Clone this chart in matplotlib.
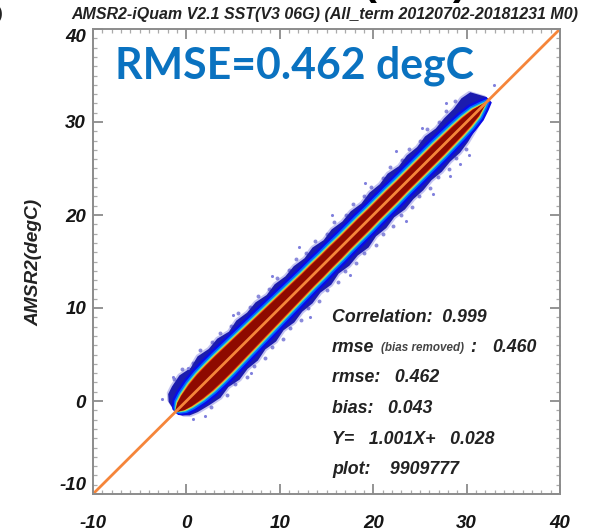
import matplotlib
matplotlib.use("Agg")
import matplotlib.pyplot as plt
from matplotlib.ticker import MultipleLocator
import numpy as np

plt.rcParams['font.family'] = ['Liberation Sans', 'DejaVu Sans']
plt.rcParams['axes.unicode_minus'] = False

# values, s = position along the 1:1 line (degC)
s = [-1.2, -1.0, -0.6, 0, 1, 2, 3, 4, 5, 6, 7, 8, 9, 10, 11, 12, 13, 14, 15, 16, 17,
     18, 19, 20, 21, 22, 23, 24, 25, 26, 27, 28, 29, 30, 31, 31.8, 32.4]
# y-x distance of the outer edge, upper and lower side
outer_up = [0, 1.8, 2.7, 3.1, 3.5, 3.1, 3.6, 3.2, 3.4, 2.9, 3.3, 3.0, 3.2, 2.8, 3.1, 2.8, 3.0, 2.7,
            3.0, 2.6, 2.9, 2.6, 2.8, 2.5, 2.8, 2.6, 2.9, 2.5, 2.8, 2.6, 2.9, 2.6, 2.8, 2.8, 3.1, 2.8, 0.6]
outer_lo = [0, 1.1, 1.9, 2.4, 2.9, 3.3, 3.0, 3.4, 3.1, 3.3, 2.9, 3.2, 2.8, 3.1, 2.8, 3.0, 2.7, 3.0,
            2.6, 2.9, 2.7, 3.0, 2.6, 2.8, 2.5, 2.8, 2.6, 2.7, 2.5, 2.7, 2.5, 2.6, 2.3, 1.8, 1.2, 0.5, 0.1]
cyan_half = [0, 0.5, 1.1, 1.5, 1.9, 2.1, 2.15, 2.15, 2.1, 2.05, 2.0, 1.95, 1.9, 1.85, 1.8, 1.75, 1.7,
             1.7, 1.65, 1.65, 1.6, 1.6, 1.6, 1.55, 1.55, 1.55, 1.5, 1.5, 1.5, 1.5, 1.5, 1.45, 1.4, 1.3, 1.05, 0.5, 0]
core_half = [0, 0.3, 0.75, 1.1, 1.45, 1.65, 1.7, 1.7, 1.65, 1.6, 1.55, 1.5, 1.45, 1.4, 1.35, 1.3, 1.25,
             1.25, 1.2, 1.2, 1.15, 1.15, 1.15, 1.1, 1.1, 1.1, 1.05, 1.05, 1.05, 1.05, 1.05, 1.0, 0.95, 0.85, 0.65, 0.25, 0]
# speckle along the band edge: position along the line and y-x distance
edge_s = [0.5, 1.5, 2.4, 3.5, 4.5, 5.5, 6.4, 7.5, 8.5, 9.5, 10.4, 11.5, 12.5, 13.5, 14.4, 15.5,
          16.5, 17.5, 18.5, 19.5, 20.5, 21.4, 22.5, 23.5, 24.5, 25.5, 26.5, 27.5, 28.5, 29.5, 30.5,
          1.0, 2.5, 3.5, 4.5, 5.5, 6.5, 7.5, 8.5, 9.5, 10.5, 11.5, 12.5, 13.5, 14.5, 15.5,
          16.5, 17.5, 18.5, 19.5, 20.5, 21.5, 22.5, 23.5, 24.5, 25.5, 26.5, 27.5, 28.5]
edge_d = [3.7, 3.9, 3.4, 4.0, 3.6, 3.7, 3.3, 3.9, 3.3, 3.6, 3.2, 3.5, 3.1, 3.6, 3.1, 3.4,
          3.0, 3.4, 2.9, 3.3, 3.0, 3.3, 2.9, 3.4, 2.9, 3.3, 3.0, 3.4, 2.9, 3.4, 3.5,
          -3.2, -3.7, -3.4, -3.9, -3.4, -3.8, -3.3, -3.7, -3.2, -3.6, -3.1, -3.5, -3.1, -3.5, -3.0,
          -3.4, -3.1, -3.5, -3.0, -3.3, -2.9, -3.3, -2.9, -3.2, -2.9, -3.2, -2.8, -2.9]
# stray points outside the band
stray_x = [-2.6, -1.4, 0.2, 2.0, 0.7, 5.0, 9.2, 6.9, 15.6, 13.2, 19.1, 22.4, 17.5, 25.2, 23.5,
           27.8, 28.2, 29.3, 32.9, 30.3, 26.4, 12.1]
stray_y = [0.2, 2.6, 3.6, -1.6, -1.9, 9.2, 13.4, 3.0, 20.0, 9.0, 23.4, 26.9, 13.6, 29.4, 19.4,
           32.0, 24.2, 25.5, 34.0, 26.4, 22.3, 16.6]
line_x = [-10, 40]
line_y = [-10, 40]
axis_ticks = [-10, 0, 10, 20, 30, 40]
stat_y = [9.0, 5.7, 2.5, -0.85, -4.1, -7.4]
stat_text = ["Correlation:  0.999", "rmse", "rmse:   0.462", "bias:   0.043",
             "Y=   1.001X+   0.028", "plot:    9909777"]

s = np.array(s)
outer_up = np.array(outer_up)
outer_lo = np.array(outer_lo)
cyan_half = np.array(cyan_half)
core_half = np.array(core_half)
edge_s = np.array(edge_s)
edge_d = np.array(edge_d)

W, H = 591, 531
fig = plt.figure(figsize=(W / 100, H / 100), dpi=100)
ax = fig.add_axes([93 / W, 1 - 494 / H, (560 - 93) / W, (494 - 29) / H])
ax.set_xlim(-10, 40)
ax.set_ylim(-10, 40)


def band(up, lo, color, **kw):
    xs = np.r_[s - up / 2, (s + lo / 2)[::-1]]
    ys = np.r_[s + up / 2, (s - lo / 2)[::-1]]
    ax.fill(xs, ys, color=color, lw=0, **kw)


band(outer_up + 0.3, outer_lo + 0.3, '#c4c4f0')
ax.scatter(edge_s - edge_d / 2, edge_s + edge_d / 2, s=8, color='#5a5acc', lw=0, alpha=0.7)
band(outer_up, outer_lo, '#1c1cae')
band(cyan_half + 0.6, cyan_half + 0.6, '#0a0ae8')
band(cyan_half + 0.25, cyan_half + 0.25, '#0068ff')
band(cyan_half, cyan_half, '#20c8e0')
band(cyan_half - 0.12, cyan_half - 0.12, '#90e070')
band(cyan_half - 0.22, cyan_half - 0.22, '#f0c030')
band(cyan_half - 0.32, cyan_half - 0.32, '#e03010')
band(core_half, core_half, '#8e0a00')
ax.scatter(stray_x, stray_y, s=5, color='#8080dd', lw=0)
ax.plot(line_x, line_y, color='#f5853a', lw=2.0, solid_capstyle='butt')

for side in ax.spines.values():
    side.set_color('#8c8c8c')
    side.set_linewidth(1.4)
ax.set_xticks(axis_ticks)
ax.set_yticks(axis_ticks)
ax.xaxis.set_minor_locator(MultipleLocator(1))
ax.yaxis.set_minor_locator(MultipleLocator(1))
ax.tick_params(which='major', direction='in', top=True, right=True, length=7, width=1.1,
               color='#777777', labelsize=13.5, labelcolor='#151515')
ax.tick_params(which='minor', direction='in', top=True, right=True, length=3, width=0.9, color='#aaaaaa')
ax.tick_params(axis='x', which='major', pad=15)
ax.tick_params(axis='y', which='major', pad=5)
for lab in ax.get_xticklabels() + ax.get_yticklabels():
    lab.set_fontweight('bold')
    lab.set_fontstyle('italic')
ylabs = ax.get_yticklabels()
ylabs[0].set_verticalalignment('bottom')
ylabs[-1].set_verticalalignment('top')

ax.set_ylabel("AMSR2(degC)", fontsize=13.8, fontweight='bold', fontstyle='italic', color='#222222')
ax.yaxis.label.set_verticalalignment('center')
ax.yaxis.set_label_coords(-0.126, 0.499)

fig.text(325 / W, 1 - 14 / H, "AMSR2-iQuam V2.1 SST(V3 06G) (All_term 20120702-20181231 M0)",
         ha='center', va='center', fontsize=11.5, fontweight='bold', fontstyle='italic', color='#222222')

for y, t in zip(stat_y, stat_text):
    ax.text(15.6, y, t, ha='left', va='center', fontsize=12.8, fontweight='bold',
            fontstyle='italic', color='#222222')
ax.text(20.8, stat_y[1], "(bias removed)", ha='left', va='center', fontsize=8.4,
        fontweight='bold', fontstyle='italic', color='#444444')
ax.text(30.4, stat_y[1], ":", ha='left', va='center', fontsize=12.8, fontweight='bold',
        fontstyle='italic', color='#222222')
ax.text(32.7, stat_y[1], "0.460", ha='left', va='center', fontsize=12.8, fontweight='bold',
        fontstyle='italic', color='#222222')

fig.text(115 / W, 1 - 78 / H, "RMSE=0.462 degC", ha='left', va='baseline', fontsize=30.8,
         fontweight='bold', color='#0a72c0', family=['Lato', 'DejaVu Sans'])

# cut off brackets along the picture's top edge
fig.text(370 / W, 1 + 6 / H, "(", ha='center', va='baseline', fontsize=30, fontweight='bold', color='black')
fig.text(460 / W, 1 + 6 / H, ")", ha='center', va='baseline', fontsize=30, fontweight='bold', color='black')
fig.text(-3 / W, 1 - 18 / H, ")", ha='left', va='baseline', fontsize=10, fontweight='bold', color='#222222')

fig.savefig("out.png", dpi=100)
